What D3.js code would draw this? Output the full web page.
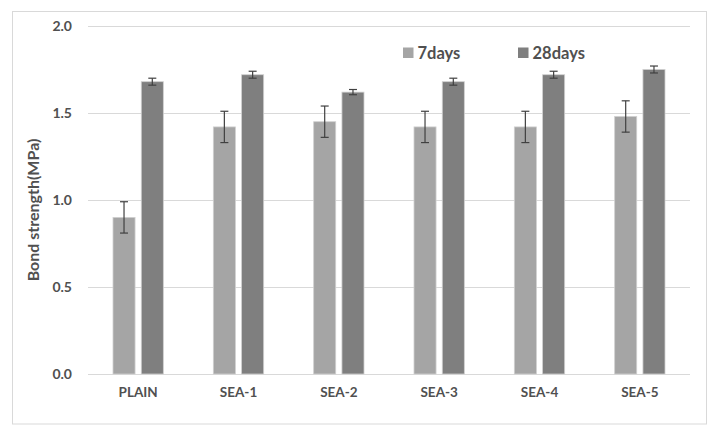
<!DOCTYPE html>
<html><head><meta charset="utf-8">
<script src="https://cdn.jsdelivr.net/npm/d3@7"></script>
<style>body{margin:0;background:#fff}svg text{font-family:Lato,"Open Sans",sans-serif;font-weight:bold;fill:#505050}</style>
</head><body><svg id="c" width="714" height="440"></svg>
<script>
const categories = ["PLAIN","SEA-1","SEA-2","SEA-3","SEA-4","SEA-5"];
const series = ["7days","28days"];
const days7 = [0.90,1.42,1.45,1.42,1.42,1.48];
const days28 = [1.68,1.72,1.62,1.68,1.72,1.75];
const err7 = [0.09,0.09,0.09,0.09,0.09,0.09];
const err28 = [0.02,0.02,0.015,0.02,0.02,0.02];
const yTicks = [0,0.5,1.0,1.5,2.0];
const colors = ["#a5a5a5","#7f7f7f"];

const svg = d3.select("#c");
svg.append("rect").attr("x",12.5).attr("y",11.5).attr("width",694).attr("height",412.5)
  .attr("fill","#fff").attr("stroke","#d9d9d9").attr("stroke-width",1);

const pL=88, pR=690, pT=26, pB=374;
const x = d3.scaleBand().domain(categories).range([pL,pR]).paddingInner(0).paddingOuter(0);
const x1 = d3.scaleBand().domain(series).range([25, x.bandwidth()-25]).paddingInner(0.22);
const y = d3.scaleLinear().domain([0,2]).range([pB,pT]);

// grid
svg.append("g").selectAll("line").data(yTicks).join("line")
  .attr("x1",pL).attr("x2",pR)
  .attr("y1",d=>Math.round(y(d))+0.5).attr("y2",d=>Math.round(y(d))+0.5)
  .attr("stroke","#d9d9d9").attr("stroke-width",1);

// y axis labels
const yAxis = d3.axisLeft(y).tickValues(yTicks).tickFormat(d3.format(".1f")).tickSize(0).tickPadding(16);
const ya = svg.append("g").attr("transform",`translate(${pL},0)`).call(yAxis);
ya.select(".domain").remove();
ya.selectAll("text").attr("font-size",14).style("fill","#505050").attr("font-family","Lato").attr("dy","0.35em");

// x axis labels
const xAxis = d3.axisBottom(x).tickSize(0).tickPadding(13);
const xa = svg.append("g").attr("transform",`translate(0,${pB})`).call(xAxis);
xa.select(".domain").remove();
xa.selectAll("text").attr("font-size",13.5).style("fill","#505050").attr("font-family","Lato");

const data = categories.map((c,i)=>({c, vals:[
  {s:"7days",v:days7[i],e:err7[i],col:colors[0]},
  {s:"28days",v:days28[i],e:err28[i],col:colors[1]}]}));

const g = svg.append("g").selectAll("g").data(data).join("g")
  .attr("transform",d=>`translate(${x(d.c)},0)`);
g.selectAll("rect").data(d=>d.vals).join("rect")
  .attr("x",d=>x1(d.s)).attr("width",x1.bandwidth())
  .attr("y",d=>y(d.v)).attr("height",d=>y(0)-y(d.v))
  .attr("fill",d=>d.col).attr("stroke","#d0d0d0").attr("stroke-width",0.8);

// error bars
const eb = g.selectAll("g.err").data(d=>d.vals).join("g").attr("class","err")
  .attr("transform",d=>`translate(${x1(d.s)+x1.bandwidth()/2},0)`);
eb.append("line").attr("x1",0).attr("x2",0).attr("y1",d=>y(d.v+d.e)).attr("y2",d=>y(d.v-d.e))
  .attr("stroke","#404040").attr("stroke-width",1.2);
eb.append("line").attr("x1",-4).attr("x2",4).attr("y1",d=>y(d.v+d.e)).attr("y2",d=>y(d.v+d.e))
  .attr("stroke","#404040").attr("stroke-width",1.2);
eb.append("line").attr("x1",-4).attr("x2",4).attr("y1",d=>y(d.v-d.e)).attr("y2",d=>y(d.v-d.e))
  .attr("stroke","#404040").attr("stroke-width",1.2);

// legend
const legX = [403,518];
const lg = svg.append("g").selectAll("g").data(series).join("g")
  .attr("transform",(d,i)=>`translate(${legX[i]},47.5)`);
lg.append("rect").attr("width",10.5).attr("height",10.5).attr("fill",(d,i)=>colors[i]);
lg.append("text").attr("x",14.5).attr("y",11).attr("font-size",16.5).text(d=>d);

// y title
svg.append("text").attr("transform","translate(39,210) rotate(-90)")
  .attr("text-anchor","middle").attr("font-size",16).text("Bond strength(MPa)");
</script></body></html>
